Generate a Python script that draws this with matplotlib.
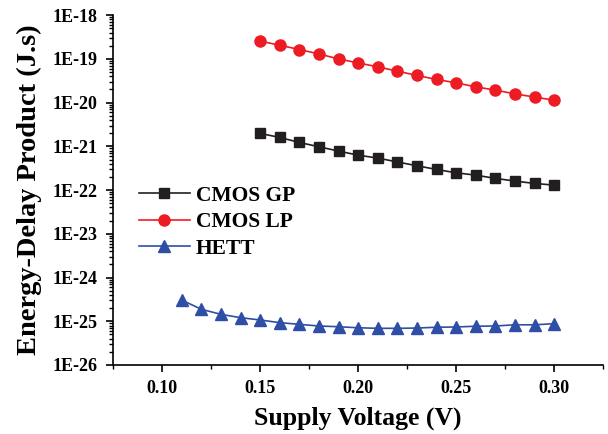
import math
import matplotlib.pyplot as plt
from matplotlib.ticker import FixedLocator, FuncFormatter, LogLocator, MultipleLocator, NullFormatter

plt.rcParams['font.family'] = ['Liberation Serif', 'DejaVu Serif']
plt.rcParams['font.weight'] = 'bold'

# Supply voltage sweeps (V)
v_cmos = [0.15, 0.16, 0.17, 0.18, 0.19, 0.20, 0.21, 0.22,
          0.23, 0.24, 0.25, 0.26, 0.27, 0.28, 0.29, 0.30]
v_hett = [0.11, 0.12, 0.13, 0.14, 0.15, 0.16, 0.17, 0.18, 0.19, 0.20,
          0.21, 0.22, 0.23, 0.24, 0.25, 0.26, 0.27, 0.28, 0.29, 0.30]

# Energy-delay product (J.s)
edp_gp = [1.98e-21, 1.60e-21, 1.23e-21, 9.8e-22, 7.8e-22, 6.3e-22, 5.4e-22, 4.4e-22,
          3.6e-22, 2.97e-22, 2.48e-22, 2.20e-22, 1.85e-22, 1.61e-22, 1.42e-22, 1.30e-22]
edp_lp = [2.55e-19, 2.06e-19, 1.64e-19, 1.30e-19, 1.00e-19, 8.1e-20, 6.6e-20, 5.25e-20,
          4.19e-20, 3.39e-20, 2.84e-20, 2.30e-20, 1.93e-20, 1.59e-20, 1.34e-20, 1.14e-20]
edp_hett = [3.06e-25, 1.88e-25, 1.44e-25, 1.21e-25, 1.07e-25, 9.3e-26, 8.5e-26, 7.8e-26,
            7.5e-26, 7.1e-26, 6.9e-26, 6.9e-26, 7.0e-26, 7.3e-26, 7.4e-26, 7.7e-26,
            7.8e-26, 8.3e-26, 8.3e-26, 8.8e-26]

fig = plt.figure(figsize=(6.08, 4.34), dpi=100)
ax = fig.add_axes([0.186, 0.159, 0.806, 0.806])

ax.plot(v_cmos, edp_gp, color='#231F20', marker='s', markersize=6.5, lw=1.2, label='CMOS GP')
ax.plot(v_cmos, edp_lp, color='#ED1C24', marker='o', markersize=8, lw=1.2, label='CMOS LP')
ax.plot(v_hett, edp_hett, color='#2F4FA6', marker='^', markersize=8, lw=1.2, label='HETT')

ax.set_yscale('log')
ax.set_ylim(1e-26, 1e-18)
ax.set_xlim(0.075, 0.325)

ax.xaxis.set_major_locator(FixedLocator([0.10, 0.15, 0.20, 0.25, 0.30]))
ax.xaxis.set_minor_locator(MultipleLocator(0.025))
ax.xaxis.set_major_formatter(FuncFormatter(lambda v, p: f'{v:.2f}'))
ax.yaxis.set_major_locator(LogLocator(base=10, numticks=20))
ax.yaxis.set_minor_locator(LogLocator(base=10, subs=range(2, 10), numticks=20))
ax.yaxis.set_major_formatter(FuncFormatter(lambda v, p: f'1E{int(round(math.log10(v)))}'))
ax.yaxis.set_minor_formatter(NullFormatter())
ax.xaxis.get_offset_text().set_visible(False)
ax.yaxis.get_offset_text().set_visible(False)

for s in ['top', 'right']:
    ax.spines[s].set_visible(False)
for s in ['left', 'bottom']:
    ax.spines[s].set_linewidth(1.2)
ax.tick_params(which='major', length=5, width=1.2, labelsize=13, pad=6)
ax.tick_params(which='minor', length=3, width=1)

ax.set_xlabel('Supply Voltage (V)', fontsize=18.5, fontweight='bold', labelpad=7)
ax.set_ylabel('Energy-Delay Product (J.s)', fontsize=20.5, fontweight='bold', labelpad=8)

ax.legend(loc='upper left', bbox_to_anchor=(0.053, 0.513), frameon=False,
          prop={'size': 15.5, 'weight': 'bold'}, handlelength=2.35, handletextpad=0.3,
          labelspacing=0.3, borderpad=0, borderaxespad=0)

fig.savefig('out.png', dpi=100)
